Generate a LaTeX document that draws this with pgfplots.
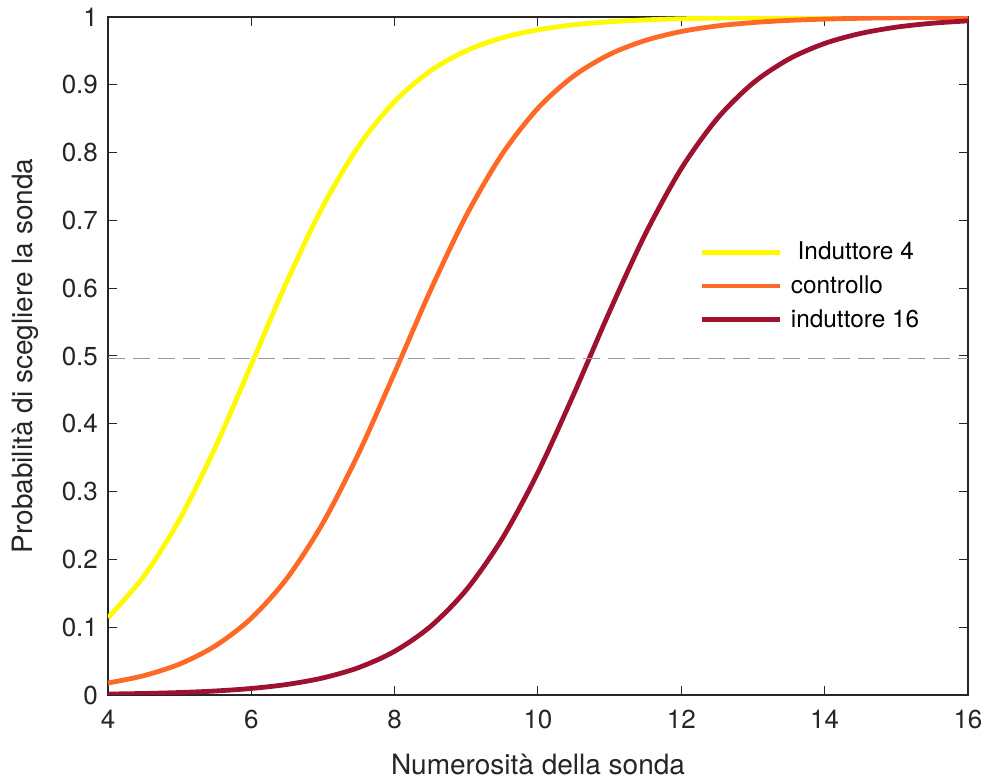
\documentclass[border=0pt]{standalone}
\usepackage{fontspec}
\setmainfont{TeX Gyre Heros}
\usepackage{pgfplots}
\pgfplotsset{compat=1.18}
\definecolor{cY}{RGB}{255,250,0}
\definecolor{cO}{RGB}{255,105,40}
\definecolor{cR}{RGB}{158,18,48}
\definecolor{axc}{RGB}{38,38,38}
\begin{document}
\begin{tikzpicture}
\begin{axis}[
  name=ax,
  scale only axis,
  width=430pt, height=339pt,
  xmin=4, xmax=16, ymin=0, ymax=1,
  xtick={4,6,8,10,12,14,16},
  ytick={0,0.1,0.2,0.3,0.4,0.5,0.6,0.7,0.8,0.9,1},
  yticklabels={0,0.1,0.2,0.3,0.4,0.5,0.6,0.7,0.8,0.9,1},
  tick align=inside,
  major tick length=4.5pt,
  axis line style={axc, line width=0.6pt},
  every tick/.style={axc, line width=0.5pt},
  /pgf/number format/assume math mode=true,
  tick label style={font=\fontsize{13}{15}\selectfont, text=axc},
  yticklabel style={xshift=-1.5pt},
  xticklabel style={yshift=-4pt},
  xlabel={Numerosità della sonda},
  ylabel={Probabilità di scegliere la sonda},
  label style={font=\fontsize{14}{16}\selectfont, text=axc},
  xlabel style={at={(axis description cs:0.5,-0.1032)}, anchor=center},
  ylabel style={at={(axis description cs:-0.0965,0.5)}, anchor=center},
  legend style={at={(rel axis cs:0.688,0.675)}, anchor=north west, draw=none, fill=none,
    font=\fontsize{12.2}{14}\selectfont, row sep=2.5pt, inner sep=0pt},
  legend cell align=left,
  legend image code/.code={\draw[#1] (0pt,0pt) -- (39pt,0pt);},
]
\addplot[cY, line width=2.4pt, smooth] coordinates {
(4,0.1141) (4.5,0.1751) (5,0.2592) (5.5,0.3659) (6,0.4875) (6.5,0.6107) (7,0.7211)
(7.5,0.8100) (8,0.8754) (8.5,0.9206) (9,0.9503) (9.5,0.9693) (10,0.9811) (10.5,0.9885)
(11,0.9930) (11.5,0.9957) (12,0.9974) (13,0.9990) (14,0.9996) (16,0.99995)};
\addlegendentry{\hspace{2pt}\ Induttore 4}
\addplot[cO, line width=2.4pt, smooth] coordinates {
(4,0.0177) (4.5,0.0285) (5,0.0457) (5.5,0.0726) (6,0.1133) (6.5,0.1725) (7,0.2539)
(7.5,0.3571) (8,0.4755) (8.5,0.5968) (9,0.7073) (9.5,0.7977) (10,0.8656) (10.5,0.9131)
(11,0.9449) (11.5,0.9655) (12,0.9786) (12.5,0.9868) (13,0.9918) (13.5,0.9950) (14,0.9969)
(14.5,0.9981) (15,0.9988) (15.5,0.9993) (16,0.9996)};
\addlegendentry{\hspace{2pt}controllo}
\addplot[cR, line width=2.4pt, smooth] coordinates {
(4,0.00137) (4.5,0.00223) (5,0.00363) (5.5,0.00591) (6,0.00962) (6.5,0.0156) (7,0.0252)
(7.5,0.0405) (8,0.0645) (8.5,0.1011) (9,0.1551) (9.5,0.2306) (10,0.3285) (10.5,0.4440)
(11,0.5659) (11.5,0.6803) (12,0.7765) (12.5,0.8500) (13,0.9025) (13.5,0.9379) (14,0.9610)
(14.5,0.9757) (15,0.9850) (15.5,0.9908) (16,0.9943)};
\addlegendentry{\hspace{2pt}induttore 16}
\addplot[gray!80, line width=0.5pt, dash pattern=on 8.5pt off 4pt, forget plot] coordinates {(4,0.497) (16,0.497)};
\end{axis}
\pgfresetboundingbox
\path[use as bounding box] ([shift={(-54pt,-43pt)}]ax.south west) rectangle ([shift={(9.5pt,8.5pt)}]ax.north east);
\end{tikzpicture}
\end{document}
